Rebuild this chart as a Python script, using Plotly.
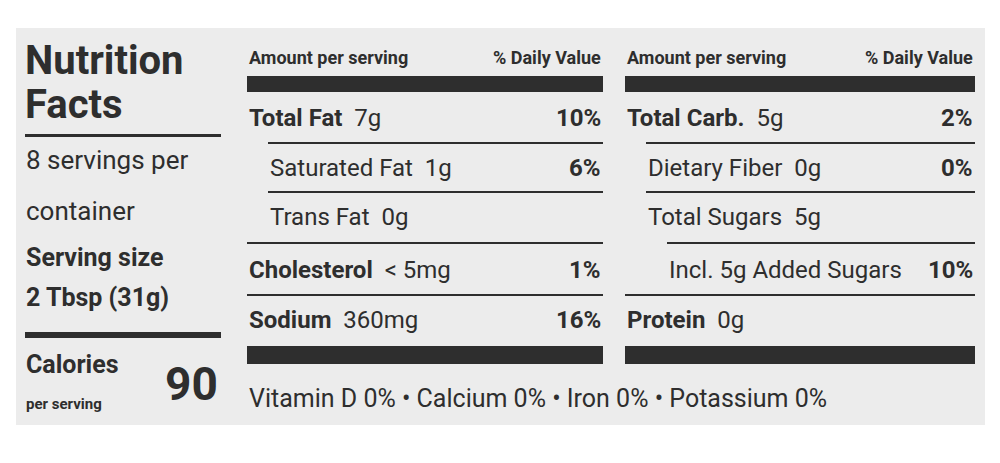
import plotly.graph_objects as go

FONT = "Roboto, Liberation Sans Narrow, sans-serif"
INK = "#2e2e2e"

serving_info = ["8 servings per", "container"]
serving_size = ["Serving size", "2 Tbsp (31g)"]
calories = "90"

left_names = ["Total Fat", "Saturated Fat", "Trans Fat", "Cholesterol", "Sodium"]
left_amounts = ["7g", "1g", "0g", "&lt; 5mg", "360mg"]
left_dv = ["10%", "6%", "", "1%", "16%"]
left_bold = [True, False, False, True, True]
left_indent = [0, 1, 1, 0, 0]

right_names = ["Total Carb.", "Dietary Fiber", "Total Sugars", "Incl. 5g Added Sugars", "Protein"]
right_amounts = ["5g", "0g", "5g", "", "0g"]
right_dv = ["2%", "0%", "", "10%", ""]
right_bold = [True, False, False, False, True]
right_indent = [0, 1, 1, 2, 0]

vitamins = "Vitamin D 0% • Calcium 0% • Iron 0% • Potassium 0%"

row_y = [118, 168, 217, 270, 320]
line_y = [143, 192, 243, 295]

fig = go.Figure()
shapes = []
ann = []

def rect(x0, y0, x1, y1, color=INK):
    shapes.append(dict(type="rect", x0=x0, x1=x1, y0=y0, y1=y1, fillcolor=color,
                       line=dict(width=0), layer="below" if color != INK else "above"))

def text(x, y, s, size, bold=False, anchor="left"):
    if bold:
        s = "<b>" + s + "</b>"
    ann.append(dict(x=x, y=y, text=s, showarrow=False, xanchor=anchor, yanchor="middle",
                    font=dict(family=FONT, size=size, color=INK)))

rect(16, 28, 985, 425, "#ececec")

text(23, 60, "Nutrition", 40, True)
text(23, 104, "Facts", 40, True)
rect(25, 134, 221, 137)
text(24, 160, serving_info[0], 26)
text(24, 211, serving_info[1], 26)
text(24, 257, serving_size[0], 25, True)
text(24, 297, serving_size[1], 25, True)
rect(25, 332, 221, 338)
text(24, 364, "Calories", 25, True)
text(24, 404, "per serving", 15, True)
text(220, 384, calories, 46, True, "right")

def column(x0, x1, names, amts, dvs, bolds, indents):
    text(x0, 57, "Amount per serving", 18, True)
    text(x1, 57, "% Daily Value", 18, True, "right")
    rect(x0, 76, x1, 92)
    for i, n in enumerate(names):
        xi = x0 + indents[i] * 21
        label = ("<b>" + n + "</b>" if bolds[i] else n) + ("  " + amts[i] if amts[i] else "")
        text(xi, row_y[i], label, 24)
        if dvs[i]:
            text(x1, row_y[i], dvs[i], 24, True, "right")
    for i, ly in enumerate(line_y):
        xi = x0 + indents[i + 1] * 21
        rect(xi, ly - 1, x1, ly + 1)
    rect(x0, 346, x1, 364)

column(247, 603, left_names, left_amounts, left_dv, left_bold, left_indent)
column(625, 975, right_names, right_amounts, right_dv, right_bold, right_indent)

text(247, 398, vitamins, 25)

fig.update_layout(
    width=1000, height=463, margin=dict(l=0, r=0, t=0, b=0),
    paper_bgcolor="white", plot_bgcolor="white",
    xaxis=dict(range=[8, 1008], visible=False, fixedrange=True),
    yaxis=dict(range=[471, 8], visible=False, fixedrange=True),
    shapes=shapes, annotations=ann, showlegend=False,
)
fig.write_html("out.html")
